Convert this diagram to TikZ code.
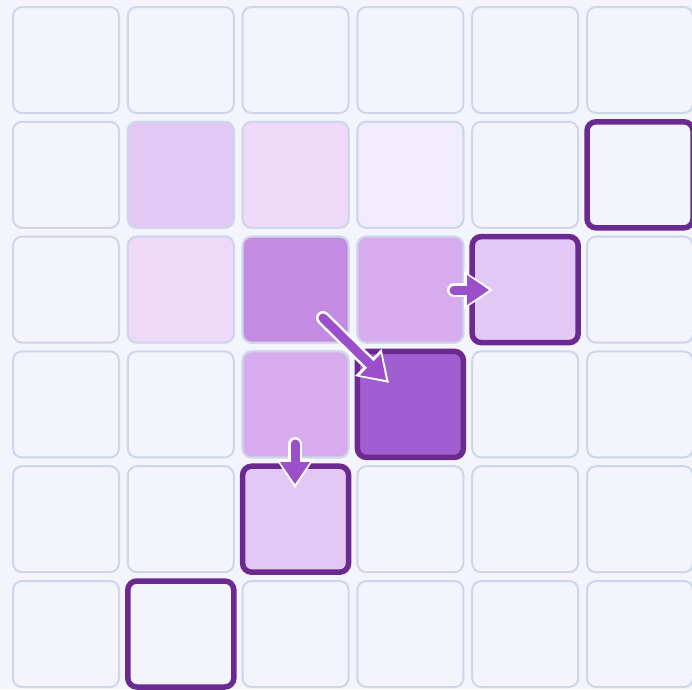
\documentclass[tikz,border=0pt]{standalone}
\usepackage{tikz}
\usetikzlibrary{arrows.meta, positioning, calc}
\definecolor{pagebg}{RGB}{243, 244, 252}
\definecolor{cellline}{RGB}{206, 215, 233}
\definecolor{heatfaint}{RGB}{241, 236, 251}
\definecolor{heatpale}{RGB}{238, 217, 248}
\definecolor{heatsoft}{RGB}{227, 199, 244}
\definecolor{heatmid}{RGB}{214, 172, 238}
\definecolor{heatstrong}{RGB}{196, 139, 227}
\definecolor{heatpeak}{RGB}{160, 94, 208}
\definecolor{pickline}{RGB}{107, 42, 144}
\definecolor{movefill}{RGB}{155, 79, 200}
\tikzset{
  cellbox/.style={rectangle, rounded corners=9pt, minimum size=106pt, inner sep=0pt, draw=cellline, line width=2pt, fill=pagebg},
  faintbox/.style={cellbox, fill=heatfaint},
  palebox/.style={cellbox, fill=heatpale},
  softbox/.style={cellbox, fill=heatsoft},
  midbox/.style={cellbox, fill=heatmid},
  strongbox/.style={cellbox, fill=heatstrong},
  pickempty/.style={cellbox, draw=pickline, line width=5.5pt},
  picksoft/.style={pickempty, fill=heatsoft},
  pickpeak/.style={pickempty, fill=heatpeak},
  movehalo/.style={white, line width=14pt, line cap=round, -{Triangle[length=29pt, width=38pt, line width=0pt]}, shorten >=-4pt},
  movebody/.style={movefill, line width=9pt, line cap=round, -{Triangle[length=22pt, width=30pt, line width=0pt]}},
}

\begin{document}
\begin{tikzpicture}[x=1pt, y=-1pt]
  \fill[pagebg] (0,0) rectangle (692,689);
  \useasboundingbox (0,0) rectangle (692,689);
  \clip (0,0) rectangle (692,689);
  % base grid
  \foreach \i in {0,...,5}
    \foreach \j in {0,...,5}
      \node[cellbox] (c\i\j) at ({66+114.8*\i},{60+114.8*\j}) {};
  % tinted and picked cells
  \foreach \pos/\sty in {11/softbox, 21/palebox, 31/faintbox, 12/palebox, 22/strongbox, 32/midbox,
      23/midbox, 33/pickpeak, 42/picksoft, 24/picksoft, 51/pickempty, 15/pickempty}
    \node[\sty] (h\pos) at (c\pos) {};
  % moves
  \coordinate (m1s) at (454,290);  \coordinate (m1e) at (489,290);
  \coordinate (m2s) at (323,318);  \coordinate (m2e) at (386,380);
  \coordinate (m3s) at (295,444);  \coordinate (m3e) at (295,484);
  \foreach \a in {1,2,3} {
    \draw[movehalo] (m\a s) -- (m\a e);
    \draw[movebody] (m\a s) -- (m\a e);
  }
\end{tikzpicture}
\end{document}
